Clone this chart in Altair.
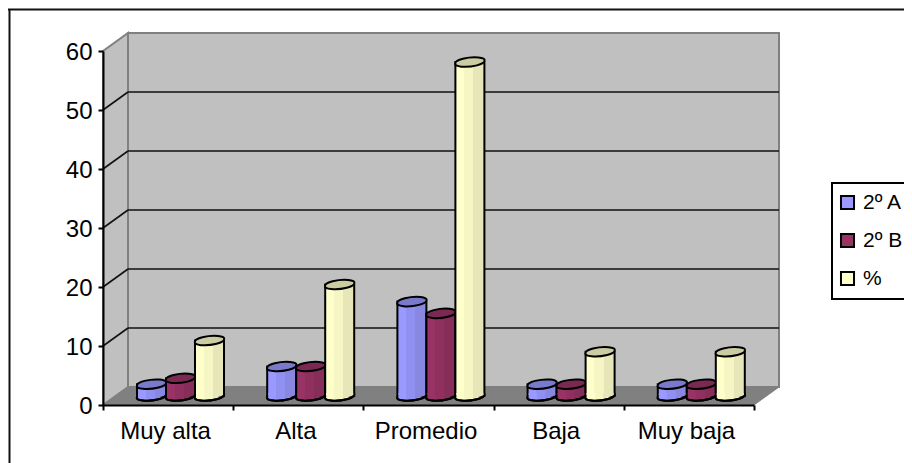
import altair as alt
import pandas as pd

categories = ["Muy alta", "Alta", "Promedio", "Baja", "Muy baja"]
series_names = ["2º A", "2º B", "%"]
a_values = [2, 5, 16, 2, 2]
b_values = [3, 5, 14, 2, 2]
pct_values = [9.4, 18.9, 56.6, 7.5, 7.5]
y_ticks = [0, 10, 20, 30, 40, 50, 60]
inner_grid = [10, 20, 30, 40, 50]

colors = ["#9999FF", "#993366", "#FFFFCC"]
mid_colors = ["#9090F0", "#8F305F", "#F6F6C4"]
dark_colors = ["#8888E0", "#872D5A", "#E6E6B8"]
top_colors = ["#7A7ACC", "#7A2952", "#CCCCA3"]

W, H = 651, 354
DX, DY = 25, -18
FONT = "Liberation Sans"
FS = 24
LEGEND_FS = 21

rows = []
for name, vals in zip(series_names, [a_values, b_values, pct_values]):
    for c, v in zip(categories, vals):
        rows.append({"cat": c, "series": name, "v": v, "zero": 0})
df = pd.DataFrame(rows)
one = pd.DataFrame({"a": [0]})
grid_df = pd.DataFrame({"v": inner_grid})

xs = alt.Scale(type="band", domain=categories, paddingInner=0, paddingOuter=0)
ys = alt.Scale(domain=[0, 60], nice=False)
os_ = alt.Scale(type="band", domain=series_names, range=[34, 121], paddingInner=0, paddingOuter=0)

ELLIPSE = "M-14.5 1.2 A14.7 4 -6 1 1 14.5 -1.2 A14.7 4 -6 1 1 -14.5 1.2 Z"
COVER = "M-13.5 -3 L13.5 -3 L13.5 -1 A14.7 4 -6 0 1 -13.5 1.2 Z"
ARC = "M-14.5 1.2 A14.7 4 -6 1 0 14.5 -1.2"

x_axis = alt.Axis(tickBand="extent", labelAngle=0, labelFont=FONT, labelFontSize=FS,
                  labelColor="black", domainColor="black", domainWidth=2, tickColor="black",
                  tickWidth=2, tickSize=5, labelPadding=9, labelOffset=-3, grid=False, zindex=1)
y_axis = alt.Axis(values=y_ticks, labelFont=FONT, labelFontSize=FS, labelColor="black",
                  domainColor="black", domainWidth=2, tickColor="black", tickWidth=2,
                  tickSize=5, labelPadding=6, labelOffset=1, grid=False, zindex=1)
X = alt.X("cat:N", scale=xs, sort=categories, title=None, axis=x_axis)
XO = alt.XOffset("series:N", scale=os_, sort=series_names)
Y = alt.Y("v:Q", scale=ys, title=None, axis=y_axis, stack=None)
Y0 = alt.Y("zero:Q", scale=ys, title=None, axis=y_axis)

layers = []
# walls and floor
layers.append(alt.Chart(one).mark_rect(fill="#C0C0C0", stroke="#808080", strokeWidth=2).encode(
    x=alt.value(DX), x2=alt.value(W + DX), y=alt.value(DY), y2=alt.value(H + DY)))
layers.append(alt.Chart(one).mark_point(
    shape=f"M0 0 L{DX} {DY} L{DX} {H+DY} L0 {H} Z", size=4, filled=True, opacity=1,
    fill="#C0C0C0", stroke="#808080", strokeWidth=2).encode(x=alt.value(0), y=alt.value(0)))
layers.append(alt.Chart(one).mark_point(
    shape=f"M0 {H} L{DX} {H+DY} L{W+DX} {H+DY} L{W} {H} Z", size=4, filled=True, opacity=1,
    fill="#808080", stroke="#808080", strokeWidth=1).encode(x=alt.value(0), y=alt.value(0)))
# frame (top and left edges; the rest runs off the picture)
layers.append(alt.Chart(one).mark_rule(color="#111111", strokeWidth=2).encode(
    x=alt.value(-95), x2=alt.value(820), y=alt.value(-41.5)))
layers.append(alt.Chart(one).mark_rule(color="#111111", strokeWidth=2).encode(
    x=alt.value(-93.5), y=alt.value(-42), y2=alt.value(420)))
# gridlines
layers.append(alt.Chart(grid_df).mark_rule(color="#111111", strokeWidth=1.6, yOffset=DY).encode(
    y=alt.Y("v:Q", scale=ys, title=None, axis=y_axis), x=alt.value(DX), x2=alt.value(W + DX)))
layers.append(alt.Chart(grid_df).mark_point(
    shape=f"M0 0 L{DX} {DY}", size=4, filled=False, opacity=1, stroke="#111111", strokeWidth=1.6
).encode(y=alt.Y("v:Q", scale=ys, title=None, axis=y_axis), x=alt.value(0)))
# base ellipses, carrying the legend
layers.append(alt.Chart(df).mark_point(
    shape=ELLIPSE, size=4, filled=True, opacity=1, stroke="black", strokeWidth=2, yOffset=DY / 2
).encode(
    x=X, xOffset=XO, y=Y0,
    fill=alt.Fill("series:N", sort=series_names,
                  scale=alt.Scale(domain=series_names, range=colors),
                  legend=alt.Legend(title=None, orient="none", legendX=729, legendY=132,
                                    fillColor="white", strokeColor="black",
                                    padding=9, symbolType="square", symbolSize=170,
                                    symbolStrokeColor="black", symbolStrokeWidth=2,
                                    symbolOffset=-4, labelFont=FONT, labelFontSize=LEGEND_FS,
                                    labelColor="black", rowPadding=15, labelOffset=5,
                                    labelLimit=200))))
# cylinders
for name, c, m, d, t in zip(series_names, colors, mid_colors, dark_colors, top_colors):
    sub = df[df["series"] == name]
    grad = alt.Gradient(gradient="linear", x1=0, x2=1, y1=0, y2=0, stops=[
        alt.GradientStop(color=c, offset=0), alt.GradientStop(color=c, offset=0.3),
        alt.GradientStop(color=m, offset=0.3), alt.GradientStop(color=m, offset=0.62),
        alt.GradientStop(color=d, offset=0.62), alt.GradientStop(color=d, offset=1)])
    layers.append(alt.Chart(sub).mark_bar(
        fill=grad, stroke="black", strokeWidth=2, yOffset=DY / 2, y2Offset=DY / 2
    ).encode(x=X, xOffset=XO, y=Y, y2="zero:Q"))
    layers.append(alt.Chart(sub).mark_point(
        shape=COVER, size=4, filled=True, opacity=1, fill=grad, yOffset=DY / 2, strokeWidth=0
    ).encode(x=X, xOffset=XO, y=Y0))
    layers.append(alt.Chart(sub).mark_point(
        shape=ARC, size=4, filled=False, opacity=1, stroke="black", strokeWidth=2, yOffset=DY / 2
    ).encode(x=X, xOffset=XO, y=Y0))
    layers.append(alt.Chart(sub).mark_point(
        shape=ELLIPSE, size=4, filled=True, opacity=1, fill=t, stroke="black", strokeWidth=2,
        yOffset=DY / 2).encode(x=X, xOffset=XO, y=Y))

chart = alt.layer(*layers).properties(
    width=W, height=H,
    autosize=alt.AutoSizeParams(type="none"),
    padding={"left": 95, "top": 43, "right": 150, "bottom": 58},
    background="white",
).configure_view(stroke=None).configure_legend(strokeWidth=2)

chart.save("out.html", embed_options={"renderer": "svg", "actions": False})
